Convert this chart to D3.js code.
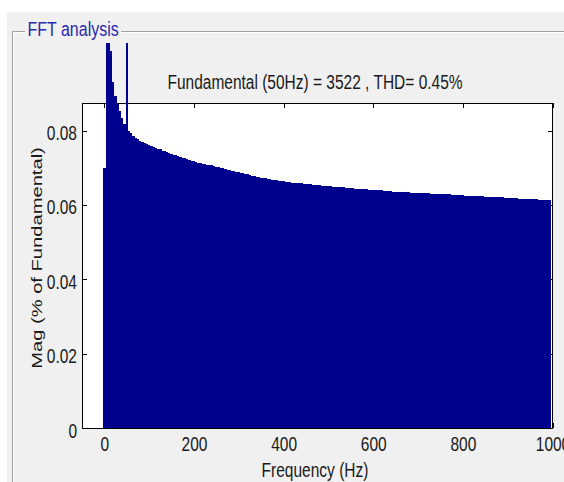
<!DOCTYPE html>
<html>
<head>
<meta charset="utf-8">
<script src="https://cdn.jsdelivr.net/npm/d3@7"></script>
<style>
  html, body { margin: 0; padding: 0; background: #ffffff; }
  svg { display: block; }
  text { font-family: "Liberation Sans", Arial, sans-serif; }
</style>
</head>
<body>
<svg id="chart" width="564" height="482"></svg>
<script>
// FFT bin spacing and harmonic magnitudes (% of fundamental), one value per 5 Hz bin from 0 Hz
const binStepHz = 5;
const magnitude = [
  0.0699, 0.2412, 0.1247, 0.1013, 0.0930, 0.0893, 0.0870, 0.0852, 0.0835, 0.0818,
  100.0,  0.0800, 0.0792, 0.0786, 0.0781, 0.0776, 0.0772, 0.0769, 0.0766, 0.0763,
  0.0761, 0.0758, 0.0756, 0.0753, 0.0751, 0.0749, 0.0746, 0.0744, 0.0741, 0.0739,
  0.0737, 0.0735, 0.0733, 0.0731, 0.0729, 0.0727, 0.0725, 0.0723, 0.0721, 0.0719,
  0.0717, 0.0715, 0.0713, 0.0712, 0.0711, 0.0709, 0.0708, 0.0707, 0.0706, 0.0704,
  0.0702, 0.0701, 0.0700, 0.0698, 0.0697, 0.0695, 0.0694, 0.0692, 0.0691, 0.0689,
  0.0688, 0.0686, 0.0685, 0.0684, 0.0682, 0.0681, 0.0679, 0.0678, 0.0676, 0.0675,
  0.0673, 0.0672, 0.0671, 0.0670, 0.0669, 0.0668, 0.0667, 0.0666, 0.0665, 0.0664,
  0.0663, 0.0662, 0.0662, 0.0661, 0.0660, 0.0660, 0.0659, 0.0658, 0.0658, 0.0657,
  0.0656, 0.0656, 0.0655, 0.0654, 0.0654, 0.0653, 0.0653, 0.0652, 0.0651, 0.0651,
  0.0650, 0.0650, 0.0649, 0.0649, 0.0648, 0.0648, 0.0647, 0.0647, 0.0646, 0.0646,
  0.0645, 0.0645, 0.0644, 0.0644, 0.0643, 0.0643, 0.0642, 0.0642, 0.0641, 0.0641,
  0.0641, 0.0640, 0.0640, 0.0639, 0.0639, 0.0638, 0.0638, 0.0637, 0.0637, 0.0636,
  0.0636, 0.0635, 0.0635, 0.0635, 0.0634, 0.0634, 0.0634, 0.0633, 0.0633, 0.0633,
  0.0632, 0.0632, 0.0632, 0.0631, 0.0631, 0.0631, 0.0630, 0.0630, 0.0630, 0.0629,
  0.0629, 0.0629, 0.0628, 0.0628, 0.0628, 0.0627, 0.0627, 0.0627, 0.0626, 0.0626,
  0.0626, 0.0625, 0.0625, 0.0625, 0.0624, 0.0624, 0.0624, 0.0623, 0.0623, 0.0623,
  0.0622, 0.0622, 0.0622, 0.0621, 0.0621, 0.0621, 0.0620, 0.0620, 0.0620, 0.0619,
  0.0619, 0.0619, 0.0618, 0.0618, 0.0618, 0.0617, 0.0617, 0.0617, 0.0616, 0.0616,
  0.0616, 0.0615, 0.0615, 0.0615, 0.0614, 0.0614, 0.0614, 0.0613, 0.0613, 0.0613
];
const xTickValues = [0, 200, 400, 600, 800, 1000];
const xTickLabels = ["0", "200", "400", "600", "800", "1000"];
const yTickValues = [0, 0.02, 0.04, 0.06, 0.08];
const yTickLabels = ["0", "0.02", "0.04", "0.06", "0.08"];
const panelTitle = "FFT analysis";
const plotTitle = "Fundamental (50Hz) = 3522 , THD= 0.45%";
const xLabel = "Frequency (Hz)";
const yLabel = "Mag (% of Fundamental)";

const freqs = magnitude.map((_, i) => i * binStepHz);
const bins = freqs.map((f, i) => ({ f, v: magnitude[i] }));

const svg = d3.select("#chart");
const W = 564, H = 482;
const plot = { left: 82, right: 552.5, top: 103, bottom: 428 };
const textStretch = 1.3;
const fontSize = 15.5;

const x = d3.scaleLinear().domain([-50, 1000]).range([plot.left, plot.right]);
const y = d3.scaleLinear().domain([0, 0.0874]).range([plot.bottom, plot.top]);

// window and panel background
svg.append("rect").attr("width", W).attr("height", H).attr("fill", "#ffffff");
svg.append("rect").attr("x", 7).attr("y", 12).attr("width", W - 7).attr("height", H - 12).attr("fill", "#f0f0f0");

// etched panel border
const etch = svg.append("g").attr("fill", "none");
[[12.5, "#a0a0a0"], [13.5, "#ffffff"]].forEach(([o, c]) => {
  etch.append("path")
    .attr("d", `M${o},${H} V${o + 19} H25 M121,${o + 19} H${W}`)
    .attr("stroke", c).attr("stroke-width", 1);
});

svg.append("text")
  .attr("transform", `translate(27.5,36) scale(1,${textStretch})`)
  .attr("font-size", 16)
  .attr("fill", "#2a2aae")
  .text(panelTitle);

// plot area
svg.append("rect")
  .attr("x", plot.left).attr("y", plot.top)
  .attr("width", plot.right - plot.left).attr("height", plot.bottom - plot.top)
  .attr("fill", "#ffffff");

// axes box with inward ticks on all four sides
const box = svg.append("g").attr("stroke", "#000").attr("stroke-width", 1).attr("fill", "none")
  .attr("shape-rendering", "crispEdges");
box.append("rect")
  .attr("x", plot.left).attr("y", plot.top)
  .attr("width", plot.right - plot.left).attr("height", plot.bottom - plot.top);

const tickLen = 5;
const xAxis = svg.append("g")
  .attr("transform", `translate(0,${plot.bottom})`)
  .call(d3.axisBottom(x).tickValues(xTickValues).tickSize(-tickLen)
    .tickFormat((d, i) => xTickLabels[i]));
const yAxis = svg.append("g")
  .attr("transform", `translate(${plot.left},0)`)
  .call(d3.axisLeft(y).tickValues(yTickValues).tickSize(-tickLen)
    .tickFormat((d, i) => yTickLabels[i]));
svg.append("g")
  .attr("transform", `translate(0,${plot.top})`)
  .call(d3.axisTop(x).tickValues(xTickValues).tickSize(-tickLen).tickFormat(""));
svg.append("g")
  .attr("transform", `translate(${plot.right},0)`)
  .call(d3.axisRight(y).tickValues(yTickValues).tickSize(-tickLen).tickFormat(""));

svg.selectAll(".domain").remove();
svg.selectAll(".tick line").attr("stroke", "#000").attr("shape-rendering", "crispEdges");
svg.selectAll(".tick text").attr("font-family", "Liberation Sans, Arial, sans-serif")
  .attr("font-size", fontSize).attr("fill", "#1a1a1a");

xAxis.selectAll(".tick text")
  .attr("y", null).attr("dy", null)
  .attr("text-anchor", "middle")
  .attr("transform", `translate(0,23) scale(1,${textStretch})`);
yAxis.selectAll(".tick text")
  .attr("x", null).attr("dy", null)
  .attr("text-anchor", "end")
  .attr("transform", `translate(-5,9) scale(1,${textStretch})`);

// spectrum bars, allowed to rise above the axes up to the panel area
svg.append("clipPath").attr("id", "barClip")
  .append("rect")
  .attr("x", plot.left).attr("y", 43)
  .attr("width", plot.right - plot.left).attr("height", plot.bottom - 43);

svg.append("g")
  .attr("clip-path", "url(#barClip)")
  .attr("shape-rendering", "crispEdges")
  .selectAll("rect")
  .data(bins)
  .join("rect")
  .attr("x", d => x(d.f - binStepHz / 2))
  .attr("width", d => x(d.f + binStepHz / 2) - x(d.f - binStepHz / 2))
  .attr("y", d => Math.max(y(d.v), 0))
  .attr("height", d => plot.bottom - Math.max(y(d.v), 0))
  .attr("fill", "#00008f");

// titles
svg.append("text")
  .attr("transform", `translate(315,88.5) scale(1,${textStretch})`)
  .attr("text-anchor", "middle")
  .attr("font-size", fontSize)
  .attr("fill", "#1a1a1a")
  .text(plotTitle);

svg.append("text")
  .attr("transform", `translate(315,477) scale(1,${textStretch})`)
  .attr("text-anchor", "middle")
  .attr("font-size", fontSize)
  .attr("fill", "#1a1a1a")
  .text(xLabel);

svg.append("text")
  .attr("transform", `translate(41.5,258) rotate(-90) scale(${textStretch},1)`)
  .attr("text-anchor", "middle")
  .attr("font-size", fontSize)
  .attr("fill", "#1a1a1a")
  .text(yLabel);
</script>
</body>
</html>
